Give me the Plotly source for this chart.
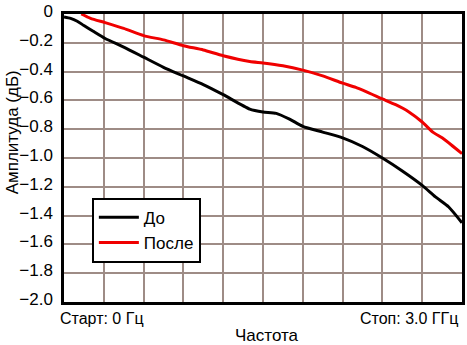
import plotly.graph_objects as go

# Frequency sweep, GHz
freq_before = [0.0, 0.05, 0.1, 0.15, 0.22, 0.31, 0.45, 0.6, 0.75, 0.9, 1.05, 1.2, 1.4, 1.5,
               1.6, 1.7, 1.8, 1.95, 2.1, 2.25, 2.4, 2.55, 2.7, 2.8, 2.9, 3.0]
amp_before = [-0.02, -0.03, -0.05, -0.08, -0.12, -0.17, -0.23, -0.30, -0.37, -0.43, -0.49, -0.56,
              -0.66, -0.68, -0.69, -0.73, -0.78, -0.82, -0.86, -0.92, -1.0, -1.09, -1.19, -1.27,
              -1.34, -1.45]

freq_after = [0.13, 0.2, 0.31, 0.45, 0.6, 0.75, 0.9, 1.05, 1.2, 1.4, 1.5, 1.65, 1.8, 1.95,
              2.1, 2.2, 2.4, 2.5, 2.6, 2.7, 2.78, 2.85, 2.92, 3.0]
amp_after = [0.0, -0.03, -0.06, -0.10, -0.15, -0.18, -0.22, -0.25, -0.29, -0.33, -0.34, -0.36,
             -0.39, -0.43, -0.48, -0.51, -0.59, -0.63, -0.68, -0.75, -0.82, -0.86, -0.91, -0.97]

y_ticks = [0, -0.2, -0.4, -0.6, -0.8, -1.0, -1.2, -1.4, -1.6, -1.8, -2.0]
y_labels = ["0", "\u22120.2", "\u22120.4", "\u22120.6", "\u22120.8", "\u22121.0", "\u22121.2",
            "\u22121.4", "\u22121.6", "\u22121.8", "\u22122.0"]

FONT = "Liberation Sans, Arial, sans-serif"
GRID = "#9e8c86"

fig = go.Figure()
fig.add_trace(go.Scatter(x=freq_before, y=amp_before, mode="lines", name="До",
                         line=dict(color="black", width=3, shape="spline", smoothing=0.6)))
fig.add_trace(go.Scatter(x=freq_after, y=amp_after, mode="lines", name="После",
                         line=dict(color="#f00000", width=3, shape="spline", smoothing=0.6)))

fig.update_layout(
    width=467, height=345,
    margin=dict(l=64, r=2, t=4, b=43),
    paper_bgcolor="white", plot_bgcolor="white",
    font=dict(family=FONT, size=16, color="black"),
    showlegend=True,
    legend=dict(x=0.07, y=0.362, xanchor="left", yanchor="top",
                bgcolor="white", bordercolor="black", borderwidth=2,
                font=dict(family=FONT, size=17), itemwidth=40,
                tracegroupgap=2),
    xaxis=dict(range=[0, 3], dtick=0.3, tick0=0, showticklabels=False,
               showgrid=True, gridcolor=GRID, gridwidth=1.5, zeroline=False,
               showline=True, linecolor="black", linewidth=2.5, mirror=True, ticks=""),
    yaxis=dict(range=[-2, 0], tickvals=y_ticks, ticktext=y_labels,
               showgrid=True, gridcolor=GRID, gridwidth=1.5, zeroline=False,
               showline=True, linecolor="black", linewidth=2.5, mirror=True, ticks="",
               tickfont=dict(family=FONT, size=17), ticklabelstandoff=5,
               ticklabeloverflow="allow", ticklabelshift=-3),
    annotations=[
        dict(text="Старт: 0 Гц", x=-0.015, y=-0.02, xref="paper", yref="paper",
             xanchor="left", yanchor="top", showarrow=False, font=dict(size=16)),
        dict(text="Стоп: 3.0 ГГц", x=0.995, y=-0.02, xref="paper", yref="paper",
             xanchor="right", yanchor="top", showarrow=False, font=dict(size=16)),
        dict(text="Частота", x=0.511, y=-0.116, xref="paper", yref="paper",
             xanchor="center", yanchor="middle", showarrow=False, font=dict(size=17)),
        dict(text="Амплитуда (дБ)", x=-0.13, y=0.59, xref="paper", yref="paper",
             xanchor="center", yanchor="middle", textangle=-90, showarrow=False,
             font=dict(size=17)),
    ],
)

fig.write_html("out.html")
